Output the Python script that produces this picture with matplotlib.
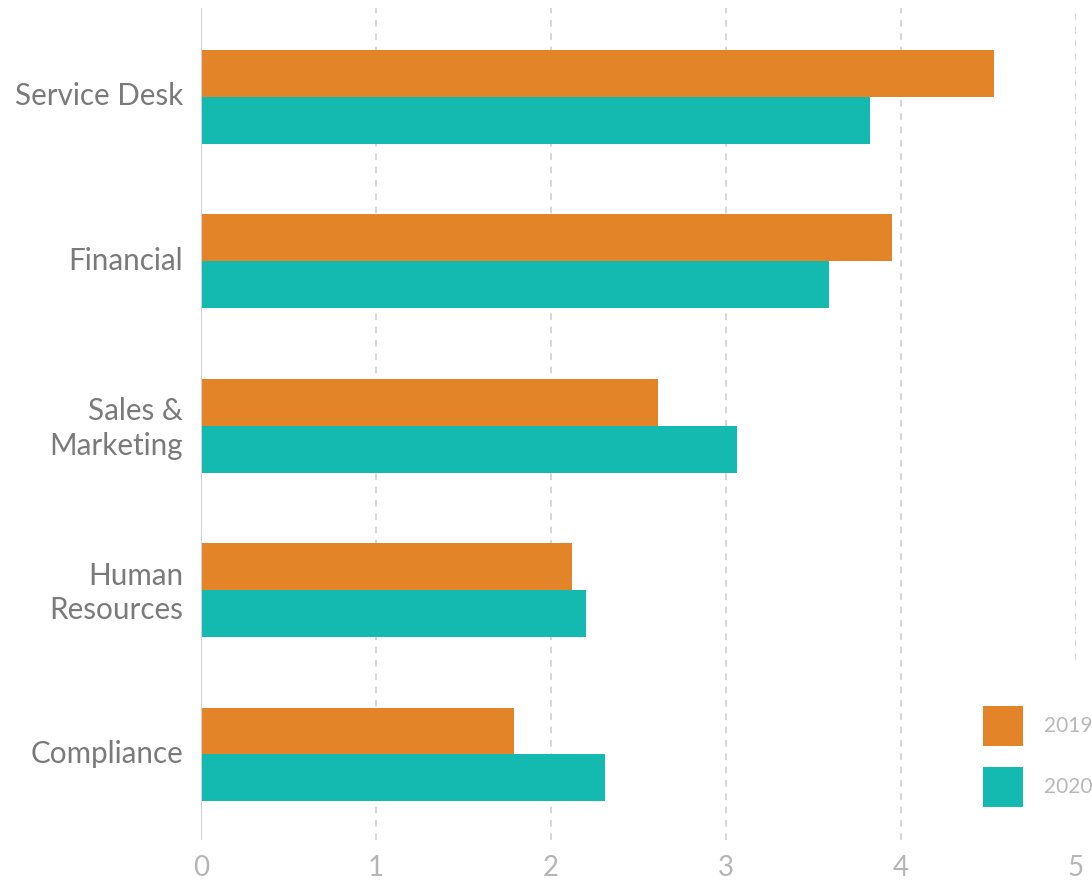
import matplotlib.pyplot as plt
import matplotlib.transforms as mtransforms
import numpy as np

plt.rcParams["font.family"] = ["Lato", "DejaVu Sans"]

categories = ["Service Desk", "Financial", "Sales &\nMarketing", "Human\nResources", "Compliance"]
values_2019 = [4.53, 3.95, 2.61, 2.12, 1.79]
values_2020 = [3.82, 3.59, 3.06, 2.20, 2.31]
years = ["2019", "2020"]
colors = ["#E28427", "#14B9B0"]
xticks = [0, 1, 2, 3, 4, 5]

W, H = 1092, 883
fig = plt.figure(figsize=(W / 100, H / 100), dpi=100)
ax = fig.add_axes([201 / W, 1 - 840 / H, (1076 - 201) / W, (840 - 8) / H])

y = np.arange(len(categories))
bar_h = 0.285
ax.barh(y - bar_h / 2, values_2019, height=bar_h, color=colors[0], label=years[0], zorder=3)
ax.barh(y + bar_h / 2, values_2020, height=bar_h, color=colors[1], label=years[1], zorder=3)

ax.set_xlim(0, 5)
ax.set_ylim(4.52, -0.54)

# dashed vertical grid; the last one stops short above the legend
for xv in xticks[1:]:
    ymin = 0.216 if xv == 5 else 0
    ax.axvline(xv, ymin=ymin, ymax=1, color="#cfcfcf", lw=1.2,
               ls=(0, (4, 4)), zorder=1)
ax.axvline(0, color="#d0d0d0", lw=1.5, zorder=4)

for s in ax.spines.values():
    s.set_visible(False)

ax.set_xticks(xticks)
ax.set_xticklabels([str(t) for t in xticks])
ax.set_yticks(y)
ax.set_yticklabels(categories)
ax.tick_params(axis="x", length=0, pad=11, labelsize=20, labelcolor="#b5b5b5")
ax.tick_params(axis="y", length=0, pad=13, labelsize=21.3, labelcolor="#7a7a7a")

# nudge category labels up a little and open up the line spacing
shift = mtransforms.ScaledTranslation(0, 3 / 100, fig.dpi_scale_trans)
for lbl in ax.get_yticklabels():
    lbl.set_linespacing(1.3)
    lbl.set_transform(lbl.get_transform() + shift)

leg = fig.legend(loc="upper left", bbox_to_anchor=(983 / W, 1 - 706 / H),
                 frameon=False, fontsize=15, handlelength=1.92, handleheight=2.58,
                 handletextpad=1.0, labelspacing=1.0, borderpad=0, borderaxespad=0)
for t in leg.get_texts():
    t.set_color("#b8b8b8")

fig.savefig("out.png", dpi=100)
